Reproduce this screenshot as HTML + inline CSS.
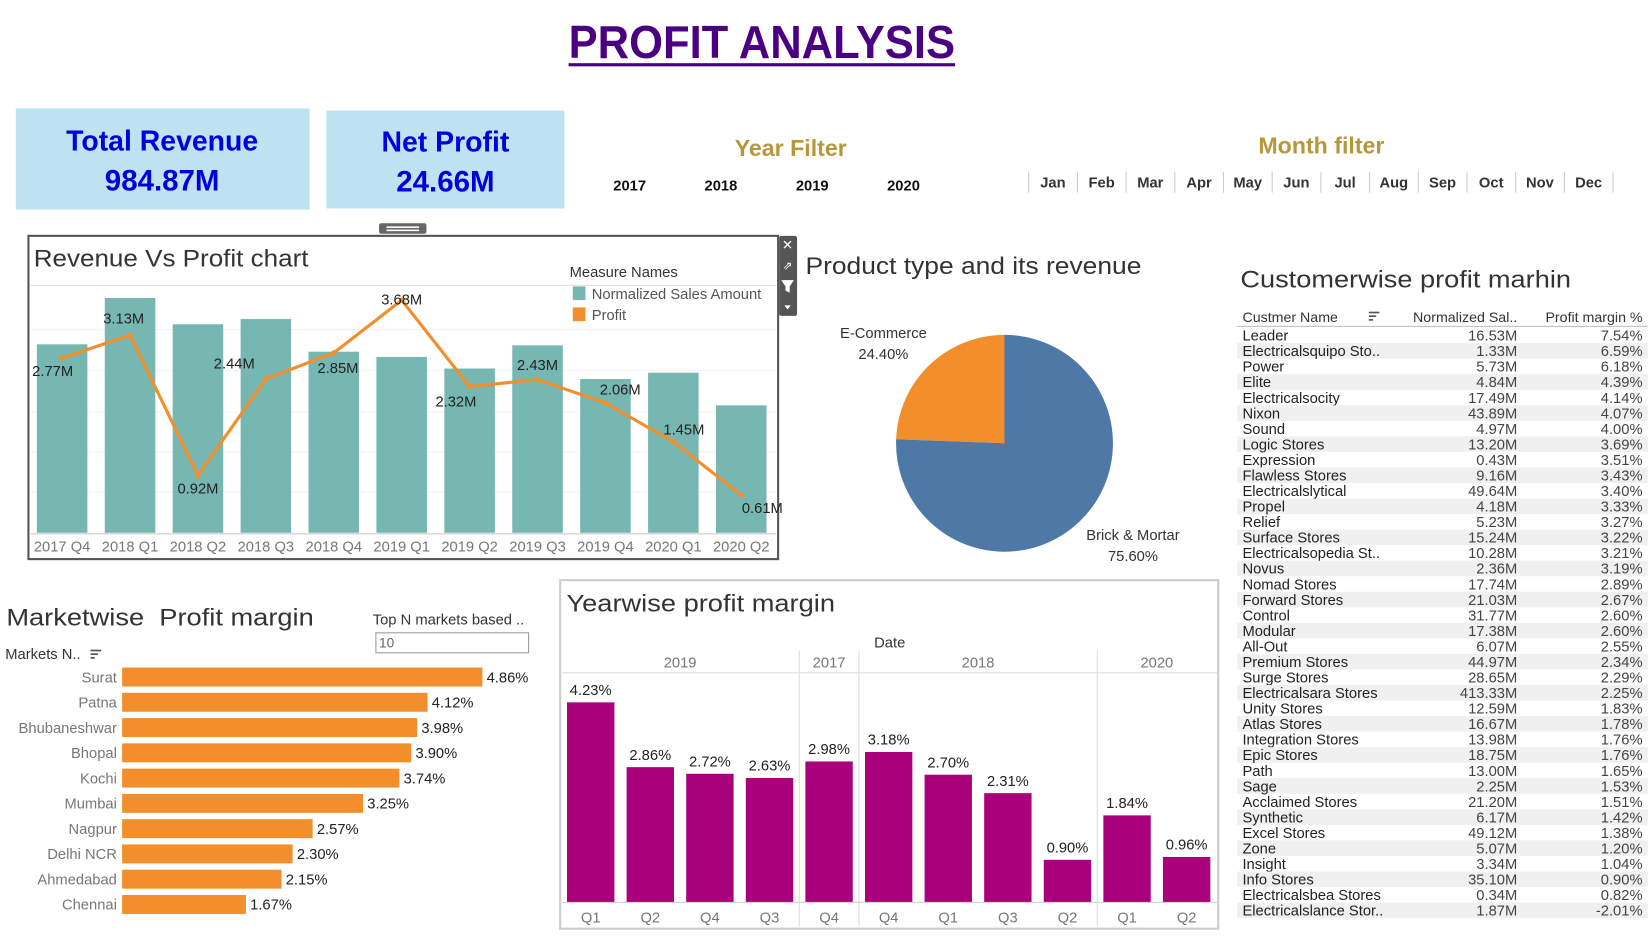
<!DOCTYPE html>
<html><head><meta charset="utf-8"><style>
html,body{margin:0;padding:0;background:#fff;width:1651px;height:947px;overflow:hidden}
svg{display:block;font-family:"Liberation Sans",sans-serif}
.t{fill:#333}
</style></head><body>
<svg id="s" width="1651" height="947" viewBox="0 0 1568 899.4" xmlns="http://www.w3.org/2000/svg">
<text x="540" y="55" textLength="367" lengthAdjust="spacingAndGlyphs" font-weight="bold" font-size="44" fill="#4b0082">PROFIT ANALYSIS</text>
<rect x="540" y="60" width="367" height="3" fill="#4b0082"/>
<g>
<rect x="15" y="103" width="279" height="96" fill="#bde3f1"/>
<text x="154" y="143" text-anchor="middle" font-weight="bold" font-size="27" fill="#0000dd">Total Revenue</text>
<text x="154" y="181" text-anchor="middle" font-weight="bold" font-size="28" fill="#0000dd">984.87M</text>
</g>
<g>
<rect x="310" y="105" width="226" height="93" fill="#bde3f1"/>
<text x="423" y="144" text-anchor="middle" font-weight="bold" font-size="27" fill="#0000dd">Net Profit</text>
<text x="423" y="182" text-anchor="middle" font-weight="bold" font-size="28" fill="#0000dd">24.66M</text>
</g>
<text x="751" y="148" text-anchor="middle" font-weight="bold" font-size="22" fill="#b8973a">Year Filter</text>
<g id="years"></g>
<text x="1255" y="146" text-anchor="middle" font-weight="bold" font-size="22" fill="#b8973a">Month filter</text>
<g id="months"></g>

<g>
<rect x="360" y="212" width="45" height="10" rx="2" fill="#666"/>
<rect x="367" y="215" width="31" height="1.5" fill="#fff"/><rect x="367" y="218" width="31" height="1.5" fill="#fff"/>
<rect x="27" y="224" width="712" height="307" fill="#fff" stroke="#555" stroke-width="2"/>
<text x="32" y="253" font-size="23" textLength="261" lengthAdjust="spacingAndGlyphs" class="t">Revenue Vs Profit chart</text>
<line x1="29" y1="271" x2="737" y2="271" stroke="#ddd"/>
<g id="revGrid"></g><g id="revBars"></g><g id="revLine"></g>
<line x1="29" y1="507" x2="737" y2="507" stroke="#ccc"/>
<g>
<text x="541" y="263" font-size="14" fill="#333">Measure Names</text>
<rect x="544" y="272" width="12" height="13" fill="#76b7b2"/><text x="562" y="284" font-size="14" fill="#555">Normalized Sales Amount</text>
<rect x="544" y="292" width="12" height="13" fill="#f28e2b"/><text x="562" y="304" font-size="14" fill="#555">Profit</text>
</g>
<g>
<rect x="740" y="224" width="17" height="76" rx="2" fill="#555"/>
<text x="748" y="237" text-anchor="middle" font-size="13" fill="#fff">✕</text>
<text x="748" y="256" text-anchor="middle" font-size="11" fill="#fff">⇗</text>
<path d="M742 266 h12 l-4 6 v6 l-4 -2 v-4z" fill="#fff"/>
<path d="M745 290 h6 l-3 4z" fill="#fff"/>
</g>
</g>

<g>
<text x="765" y="260" font-size="23" textLength="319" lengthAdjust="spacingAndGlyphs" class="t">Product type and its revenue</text>
<g id="pie"></g>
</g>

<g>
<text x="1178" y="273" font-size="23" textLength="314" lengthAdjust="spacingAndGlyphs" class="t">Customerwise profit marhin</text>
<text x="1180" y="306" font-size="13.5" fill="#333">Custmer Name</text>
<g><rect x="1300" y="296" width="10" height="1.6" fill="#555"/><rect x="1300" y="299.5" width="7" height="1.6" fill="#555"/><rect x="1300" y="303" width="4" height="1.6" fill="#555"/></g>
<text x="1441" y="306" text-anchor="end" font-size="13.5" fill="#333">Normalized Sal..</text>
<text x="1560" y="306" text-anchor="end" font-size="13.5" fill="#333">Profit margin %</text>
<line x1="1175" y1="310" x2="1565" y2="310" stroke="#bbb"/>
<g id="tbl"></g>
</g>

<g>
<text x="6" y="594" font-size="23" textLength="292" lengthAdjust="spacingAndGlyphs" class="t" xml:space="preserve">Marketwise  Profit margin</text>
<text x="354" y="593" font-size="14" fill="#333">Top N markets based ..</text>
<g><rect x="357" y="601" width="145" height="19" fill="#fff" stroke="#999"/><text x="360" y="615" font-size="13" fill="#666">10</text></g>
<text x="5" y="626" font-size="14" fill="#333">Markets N..</text>
<g><rect x="86" y="617" width="10" height="1.6" fill="#555"/><rect x="86" y="620.5" width="7" height="1.6" fill="#555"/><rect x="86" y="624" width="4" height="1.6" fill="#555"/></g>
<g id="mkt"></g>
</g>

<g>
<rect x="532" y="551" width="625" height="331" fill="#fff" stroke="#ccc" stroke-width="2"/>
<text x="538" y="581" font-size="23" textLength="255" lengthAdjust="spacingAndGlyphs" class="t">Yearwise profit margin</text>
<text x="845" y="615" text-anchor="middle" font-size="14" fill="#333">Date</text>
<line x1="534" y1="639" x2="1156" y2="639" stroke="#ddd"/>
<g id="yw"></g>
<line x1="534" y1="857" x2="1156" y2="857" stroke="#ccc"/>
</g>
</svg>
<script>
const NS="http://www.w3.org/2000/svg";
function mk(p,tag,at,txt){const e=document.createElementNS(NS,tag);for(const k in at)e.setAttribute(k,at[k]);if(txt!==undefined)e.textContent=txt;p.appendChild(e);return e;}
const $=id=>document.getElementById(id);

const yearLabels=["2017","2018","2019","2020"];
const monthLabels=["Jan","Feb","Mar","Apr","May","Jun","Jul","Aug","Sep","Oct","Nov","Dec"];
yearLabels.forEach((y,i)=>{const t=mk($("years"),"text",{x:598+i*86.7,y:181,"text-anchor":"middle","font-size":14,"font-weight":"bold",fill:"#111"},y);

});
monthLabels.forEach((m,i)=>{const x0=977+i*46.25;
mk($("months"),"line",{x1:x0,y1:163,x2:x0,y2:183,stroke:"#ccc"});
const t=mk($("months"),"text",{x:x0+23,y:178,"text-anchor":"middle","font-size":14,"font-weight":"bold",fill:"#333"},m);

});
mk($("months"),"line",{x1:1532,y1:163,x2:1532,y2:183,stroke:"#ccc"});

const quarters=["2017 Q4","2018 Q1","2018 Q2","2018 Q3","2018 Q4","2019 Q1","2019 Q2","2019 Q3","2019 Q4","2020 Q1","2020 Q2"];
const salesM=[89.5,111.5,99,101.5,86,83.5,78,89,73,76,60.5];
const profitM=[2.77,3.13,0.92,2.44,2.85,3.68,2.32,2.43,2.06,1.45,0.61];
const profitLbl=["2.77M","3.13M","0.92M","2.44M","2.85M","3.68M","2.32M","2.43M","2.06M","1.45M","0.61M"];
const lblDx=[-9,-6,0,-30,4,0,-13,0,14,10,20];
const lblDy=[17,-11,17,-10,19,4,19,-9,-8,-7,17];
const xQ=i=>59+i*64.5, ySales=v=>506-v*2, yProfit=v=>507-v*60.3;
[313,352,391,429,467].forEach(y=>mk($("revGrid"),"line",{x1:29,y1:y,x2:737,y2:y,stroke:"#f4f4f4"}));
salesM.forEach((v,i)=>{const r=mk($("revBars"),"rect",{x:xQ(i)-24,y:ySales(v),width:48,height:506-ySales(v),fill:"#76b7b2"});


const t=mk($("revBars"),"text",{x:xQ(i),y:524,"text-anchor":"middle","font-size":14,fill:"#777"},quarters[i]);

});
const pl=mk($("revLine"),"polyline",{points:profitM.map((v,i)=>xQ(i)+","+yProfit(v)).join(" "),fill:"none",stroke:"#f28e2b","stroke-width":3});


profitM.forEach((v,i)=>{mk($("revLine"),"circle",{cx:xQ(i),cy:yProfit(v),r:2.5,fill:"#f28e2b"});
const t=mk($("revLine"),"text",{x:xQ(i)+lblDx[i],y:yProfit(v)+lblDy[i],"text-anchor":"middle","font-size":14,fill:"#222"},profitLbl[i]);

});

const pieCats=["E-Commerce","Brick & Mortar"];
const pieVals=[24.40,75.60];
const pieCols=["#f28e2b","#4e79a7"];
const cx=954,cy=421,R=103;
const pt=a=>[cx+R*Math.sin(a),cy-R*Math.cos(a)];
const tot=pieVals.reduce((a,b)=>a+b,0);
const angE=-pieVals[0]/tot*2*Math.PI;
function arc(a0,a1,col,name){const p0=pt(a0),p1=pt(a1);const large=Math.abs(a1-a0)>Math.PI?1:0;
const p=mk($("pie"),"path",{d:`M${cx},${cy} L${p0[0]},${p0[1]} A${R},${R} 0 ${large} 1 ${p1[0]},${p1[1]} Z`,fill:col});

}
arc(angE,0,pieCols[0],"slice-e-commerce");
arc(0,2*Math.PI+angE,pieCols[1],"slice-brick-mortar");
mk($("pie"),"text",{x:839,y:321,"text-anchor":"middle","font-size":14,fill:"#333"},pieCats[0]);
mk($("pie"),"text",{x:839,y:341,"text-anchor":"middle","font-size":14,fill:"#333"},pieVals[0].toFixed(2)+"%");
mk($("pie"),"text",{x:1076,y:513,"text-anchor":"middle","font-size":14,fill:"#333"},pieCats[1]);
mk($("pie"),"text",{x:1076,y:533,"text-anchor":"middle","font-size":14,fill:"#333"},pieVals[1].toFixed(2)+"%");

const custNames=["Leader","Electricalsquipo Sto..","Power","Elite","Electricalsocity","Nixon","Sound","Logic Stores","Expression","Flawless Stores","Electricalslytical","Propel","Relief","Surface Stores","Electricalsopedia St..","Novus","Nomad Stores","Forward Stores","Control","Modular","All-Out","Premium Stores","Surge Stores","Electricalsara Stores","Unity Stores","Atlas Stores","Integration Stores","Epic Stores","Path","Sage","Acclaimed Stores","Synthetic","Excel Stores","Zone","Insight","Info Stores","Electricalsbea Stores","Electricalslance Stor.."];
const custSales=["16.53M","1.33M","5.73M","4.84M","17.49M","43.89M","4.97M","13.20M","0.43M","9.16M","49.64M","4.18M","5.23M","15.24M","10.28M","2.36M","17.74M","21.03M","31.77M","17.38M","6.07M","44.97M","28.65M","413.33M","12.59M","16.67M","13.98M","18.75M","13.00M","2.25M","21.20M","6.17M","49.12M","5.07M","3.34M","35.10M","0.34M","1.87M"];
const custMargin=["7.54%","6.59%","6.18%","4.39%","4.14%","4.07%","4.00%","3.69%","3.51%","3.43%","3.40%","3.33%","3.27%","3.22%","3.21%","3.19%","2.89%","2.67%","2.60%","2.60%","2.55%","2.34%","2.29%","2.25%","1.83%","1.78%","1.76%","1.76%","1.65%","1.53%","1.51%","1.42%","1.38%","1.20%","1.04%","0.90%","0.82%","-2.01%"];
custNames.forEach((n,i)=>{const yc=318.5+i*14.76;
if(i%2==1)mk($("tbl"),"rect",{x:1175,y:yc-7.4,width:390,height:14.76,fill:"#f0f0f0"});
const g=mk($("tbl"),"g",{});


mk(g,"text",{x:1180,y:yc+5,"font-size":14,fill:"#222"},n);
mk(g,"text",{x:1441,y:yc+5,"text-anchor":"end","font-size":14,fill:"#444"},custSales[i]);
mk(g,"text",{x:1560,y:yc+5,"text-anchor":"end","font-size":14,fill:"#444"},custMargin[i]);});

const markets=["Surat","Patna","Bhubaneshwar","Bhopal","Kochi","Mumbai","Nagpur","Delhi NCR","Ahmedabad","Chennai"];
const marketMargin=[4.86,4.12,3.98,3.90,3.74,3.25,2.57,2.30,2.15,1.67];
const xM=v=>116+v*70.4;
markets.forEach((m,i)=>{const yc=643+i*24;
const r=mk($("mkt"),"rect",{x:116,y:yc-9,width:xM(marketMargin[i])-116,height:18,fill:"#f28e2b"});


mk($("mkt"),"text",{x:111,y:yc+5,"text-anchor":"end","font-size":14,fill:"#777"},m);
mk($("mkt"),"text",{x:xM(marketMargin[i])+4,y:yc+5,"font-size":14,fill:"#222"},marketMargin[i].toFixed(2)+"%");});

const ywYears=["2019","2017","2018","2020"];
const ywYearCounts=[4,1,4,2];
const ywQuarters=["Q1","Q2","Q4","Q3","Q4","Q4","Q1","Q3","Q2","Q1","Q2"];
const ywMargin=[4.23,2.86,2.72,2.63,2.98,3.18,2.70,2.31,0.90,1.84,0.96];
const xY=i=>561+i*56.6, yY=v=>857-v*44.9;
let idx=0;
ywYears.forEach((y,k)=>{const n=ywYearCounts[k];const cxm=(xY(idx)+xY(idx+n-1))/2;
mk($("yw"),"text",{x:cxm,y:634,"text-anchor":"middle","font-size":14,fill:"#777"},y);
idx+=n;
if(k!==ywYears.length-1){const xs=xY(idx)-28.3;mk($("yw"),"line",{x1:xs,y1:618,x2:xs,y2:880,stroke:"#ddd"});}});
ywMargin.forEach((v,i)=>{const r=mk($("yw"),"rect",{x:xY(i)-22.5,y:yY(v),width:45,height:857-yY(v),fill:"#a9007b"});


mk($("yw"),"text",{x:xY(i),y:yY(v)-7,"text-anchor":"middle","font-size":14,fill:"#222"},v.toFixed(2)+"%");
mk($("yw"),"text",{x:xY(i),y:876,"text-anchor":"middle","font-size":14,fill:"#777"},ywQuarters[i]);});
</script>
</body></html>
